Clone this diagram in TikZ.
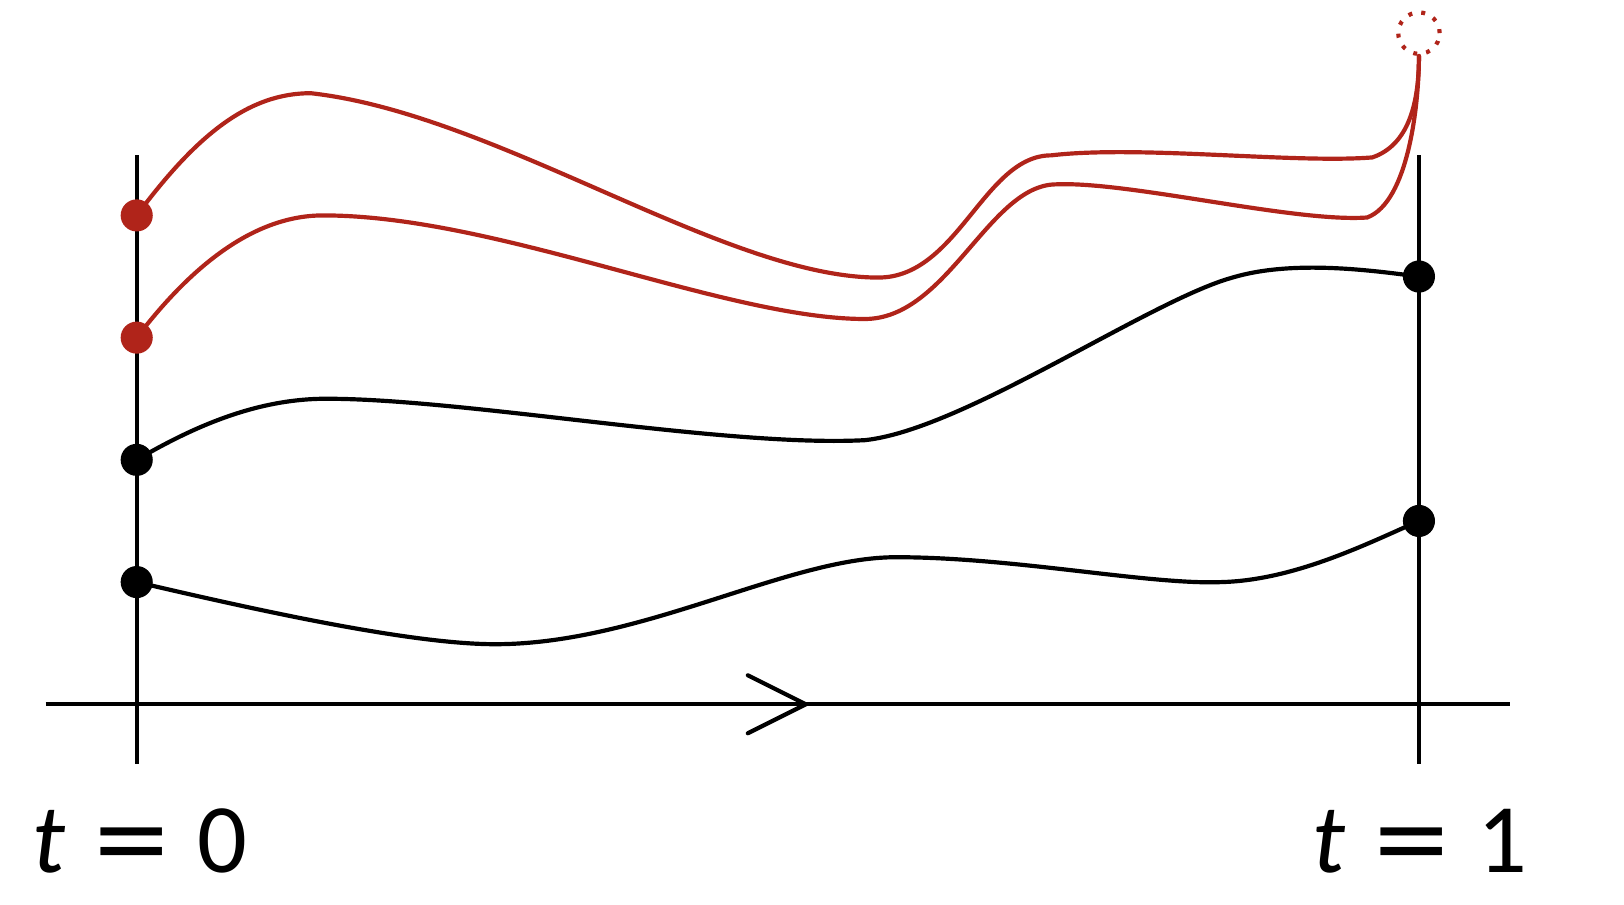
\documentclass[tikz,border=0pt]{standalone}
\usepackage{fontspec}
\setmainfont{Carlito}
\newfontfamily\eqfont{DejaVu Sans}
\usetikzlibrary{positioning,calc}
\definecolor{pathred}{RGB}{176,36,26}
\begin{document}
\begin{tikzpicture}[
      x=1cm,y=-1cm,
      line width=1.15pt,
      line cap=round,
      axis/.style={draw=black,line cap=butt},
      path line/.style={draw=black},
      red line/.style={draw=pathred},
      blackdot/.style={
         circle,
         fill=black,
         inner sep=0pt,
         minimum size=3.1mm
      },
      reddot/.style={
         circle,
         fill=pathred,
         inner sep=0pt,
         minimum size=3.1mm
      },
      ghost/.style={
         circle,
         draw=pathred,
         dash pattern=on 1.1pt off 2.5pt,
         line cap=butt,
         inner sep=0pt,
         minimum size=4mm
      },
      timelabel/.style={font=\fontsize{27}{32}\selectfont,anchor=base,inner sep=0pt}
    ]
    \useasboundingbox (0,0) rectangle (15.68,8.73);
    % axes
    \coordinate (x0) at (0.44,6.80);
    \coordinate (x1) at (14.58,6.80);
    \coordinate (mid) at (7.78,6.80);
    \coordinate (a0) at (1.32,1.50);
    \coordinate (a1) at (1.32,7.38);
    \coordinate (b0) at (13.70,1.50);
    \coordinate (b1) at (13.70,7.38);
    \draw[axis] (x0) -- (x1);
    \draw[axis] (a0) -- (a1);
    \draw[axis] (b0) -- (b1);
    \draw ($(mid)+(-0.56,-0.28)$) -- (mid) -- ($(mid)+(-0.56,0.28)$);
    % end points
    \node (l1) [reddot] at (1.32,2.08) {};
    \node (l2) [reddot] at (1.32,3.26) {};
    \node (l3) [blackdot] at (1.32,4.44) {};
    \node (l4) [blackdot] at (1.32,5.62) {};
    \node (r3) [blackdot] at (13.70,2.67) {};
    \node (r4) [blackdot] at (13.70,5.03) {};
    \node (end) [ghost] at (13.70,0.32) {};
    % paths
    \draw[red line] (l1.center) .. controls (1.90,1.30) and (2.40,0.90) .. (3.00,0.90)
       .. controls (4.80,1.10) and (7.00,2.68) .. (8.48,2.68)
       .. controls (9.25,2.68) and (9.50,1.50) .. (10.15,1.50)
       .. controls (11.00,1.40) and (12.50,1.58) .. (13.25,1.52)
       .. controls (13.60,1.40) and (13.70,1.00) .. (end.south);
    \draw[red line] (l2.center) .. controls (1.90,2.50) and (2.50,2.08) .. (3.12,2.08)
       .. controls (4.80,2.08) and (7.00,3.08) .. (8.35,3.08)
       .. controls (9.15,3.08) and (9.55,1.78) .. (10.20,1.78)
       .. controls (10.90,1.75) and (12.50,2.15) .. (13.20,2.10)
       .. controls (13.60,1.95) and (13.70,1.00) .. (end.south);
    \draw[path line] (l3.center) .. controls (1.90,4.10) and (2.50,3.85) .. (3.15,3.85)
       .. controls (4.50,3.85) and (7.00,4.32) .. (8.35,4.25)
       .. controls (9.30,4.15) and (11.10,2.90) .. (11.90,2.68)
       .. controls (12.50,2.50) and (13.30,2.62) .. (r3.center);
    \draw[path line] (l4.center) .. controls (2.60,5.92) and (4.00,6.22) .. (4.78,6.22)
       .. controls (6.20,6.22) and (7.60,5.38) .. (8.65,5.38)
       .. controls (9.80,5.38) and (11.10,5.65) .. (11.80,5.62)
       .. controls (12.50,5.60) and (13.20,5.25) .. (r4.center);
    % labels
    \node (t0) [timelabel] at (1.35,8.42) {\textit{t}\hspace{0.25em}{\eqfont=}\hspace{0.25em}0};
    \node (t1) [timelabel] at (13.71,8.42) {\textit{t}\hspace{0.25em}{\eqfont=}\hspace{0.25em}1};
\end{tikzpicture}
\end{document}
